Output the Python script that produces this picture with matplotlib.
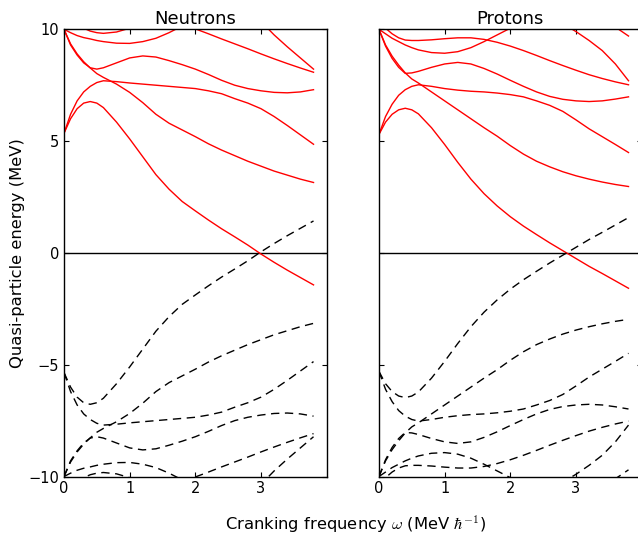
import numpy as np
import matplotlib
matplotlib.use('Agg')
import matplotlib.pyplot as plt

# common frequency grid (MeV/hbar)
omega = [0, 0.1, 0.2, 0.3, 0.4, 0.5, 0.6, 0.8, 1.0, 1.2, 1.4, 1.6, 1.8,
         2.0, 2.2, 2.4, 2.6, 2.8, 3.0, 3.2, 3.4, 3.6, 3.8]

# ---- neutrons, positive quasi-particle routhians (MeV) ----
n_a = [5.35, 6.0, 6.45, 6.7, 6.77, 6.7, 6.5, 5.85, 5.1, 4.3, 3.5, 2.85, 2.3,
       1.88, 1.47, 1.08, 0.72, 0.35, -0.05, -0.42, -0.77, -1.1, -1.43]
n_b = [5.35, 6.2, 6.8, 7.2, 7.45, 7.62, 7.7, 7.66, 7.6, 7.55, 7.5, 7.45, 7.4,
       7.35, 7.25, 7.12, 6.9, 6.7, 6.45, 6.1, 5.7, 5.28, 4.86]
n_c = [10.0, 9.35, 8.9, 8.55, 8.27, 8.02, 7.85, 7.55, 7.18, 6.72, 6.2, 5.8, 5.5,
       5.2, 4.88, 4.6, 4.35, 4.1, 3.88, 3.66, 3.48, 3.3, 3.15]
n_d = [10.0, 9.3, 8.85, 8.5, 8.28, 8.22, 8.28, 8.5, 8.72, 8.81, 8.76, 8.6, 8.42,
       8.22, 7.98, 7.72, 7.5, 7.35, 7.25, 7.18, 7.16, 7.2, 7.3]
n_e_w = [0, 0.1, 0.2, 0.3, 0.4, 0.5, 0.6, 0.8, 1.0, 1.2, 1.4, 1.6, 1.8, 2.0]
n_e = [10.0, 9.85, 9.72, 9.63, 9.57, 9.5, 9.45, 9.38, 9.37, 9.45, 9.6, 9.85, 10.15, 10.5]
n_f_w = [0, 0.1, 0.2, 0.3, 0.4, 0.5, 0.6, 0.8, 1.0, 1.2]
n_f = [10.6, 10.4, 10.2, 10.05, 9.92, 9.85, 9.82, 9.88, 10.05, 10.3]
n_g_w = [1.8, 2.0, 2.2, 2.4, 2.6, 2.8, 3.0, 3.2, 3.4, 3.6, 3.8]
n_g = [10.25, 10.02, 9.8, 9.57, 9.35, 9.13, 8.9, 8.68, 8.47, 8.27, 8.08]
n_h_w = [2.8, 3.0, 3.2, 3.4, 3.6, 3.8]
n_h = [10.8, 10.35, 9.75, 9.22, 8.72, 8.22]

# ---- protons ----
p_a = [5.3, 5.85, 6.2, 6.4, 6.47, 6.4, 6.22, 5.6, 4.85, 4.05, 3.3, 2.65, 2.1,
       1.62, 1.2, 0.82, 0.45, 0.1, -0.25, -0.6, -0.92, -1.25, -1.58]
p_b = [5.3, 6.1, 6.65, 7.05, 7.3, 7.45, 7.52, 7.45, 7.35, 7.28, 7.23, 7.2, 7.15,
       7.08, 6.98, 6.8, 6.6, 6.33, 5.95, 5.55, 5.2, 4.85, 4.49]
p_c = [10.0, 9.3, 8.8, 8.4, 8.05, 7.78, 7.6, 7.2, 6.8, 6.4, 6.0, 5.6, 5.22,
       4.8, 4.42, 4.1, 3.85, 3.63, 3.45, 3.3, 3.17, 3.06, 2.97]
p_d = [10.0, 9.25, 8.7, 8.3, 8.03, 8.05, 8.12, 8.3, 8.45, 8.52, 8.45, 8.25, 8.0,
       7.72, 7.45, 7.2, 7.0, 6.87, 6.8, 6.77, 6.8, 6.88, 6.98]
p_e_w = [0, 0.1, 0.2, 0.3, 0.4, 0.5, 0.6, 0.8, 1.0, 1.2, 1.4, 1.6, 1.8, 2.0, 2.2]
p_e = [10.0, 9.8, 9.6, 9.45, 9.3, 9.18, 9.08, 8.96, 8.93, 9.0, 9.18, 9.45, 9.75, 10.05, 10.4]
p_f = [10.4, 10.05, 9.8, 9.62, 9.52, 9.5, 9.5, 9.53, 9.58, 9.62, 9.62, 9.55, 9.42,
       9.25, 9.05, 8.83, 8.6, 8.38, 8.17, 7.97, 7.8, 7.65, 7.52]
p_g_w = [2.6, 2.8, 3.0, 3.2, 3.4, 3.6, 3.8]
p_g = [10.7, 10.25, 9.9, 9.5, 9.05, 8.45, 7.7]
p_h_w = [3.4, 3.6, 3.8]
p_h = [10.5, 10.1, 9.7]

neutrons = [(omega, n_a), (omega, n_b), (omega, n_c), (omega, n_d),
            (n_e_w, n_e), (n_f_w, n_f), (n_g_w, n_g), (n_h_w, n_h)]
protons = [(omega, p_a), (omega, p_b), (omega, p_c), (omega, p_d),
           (p_e_w, p_e), (omega, p_f), (p_g_w, p_g), (p_h_w, p_h)]

plt.rcParams['mathtext.fontset'] = 'cm'
plt.rcParams['xtick.direction'] = 'in'
plt.rcParams['ytick.direction'] = 'in'
plt.rcParams['xtick.top'] = True
plt.rcParams['ytick.right'] = True
plt.rcParams['xtick.major.size'] = 3.5
plt.rcParams['ytick.major.size'] = 3.5
plt.rcParams['axes.linewidth'] = 1.0


def plot_panel(ax, curves, title):
    ax.axhline(0, color='k', lw=1.0)
    for w, e in curves:
        w = np.array(w)
        e = np.array(e)
        ax.plot(w, e, color='r', lw=1.0)
        ax.plot(w, -e, color='k', lw=1.0, dashes=(6, 4))
    ax.set_xlim(0, 4)
    ax.set_ylim(-10, 10)
    ax.set_xticks([0, 1, 2, 3])
    ax.set_yticks([-10, -5, 0, 5, 10])
    ax.tick_params(labelsize=10.5)
    ax.set_title(title, fontsize=13, pad=4)


fig = plt.figure(figsize=(6.38, 5.35), dpi=100)
ax1 = fig.add_axes([0.1003, 0.1093, 0.4117, 0.8359])
ax2 = fig.add_axes([0.594, 0.1093, 0.4117, 0.8359])
plot_panel(ax1, neutrons, 'Neutrons')
plot_panel(ax2, protons, 'Protons')
ax2.tick_params(labelleft=False)
ax1.set_ylabel('Quasi-particle energy (MeV)', fontsize=11.8, labelpad=2)
fig.text(356 / 638, 1 - 524 / 535, r'Cranking frequency $\omega$ (MeV $\hbar^{-1}$)',
         ha='center', va='center', fontsize=11.8)
fig.savefig('out.png', dpi=100)
